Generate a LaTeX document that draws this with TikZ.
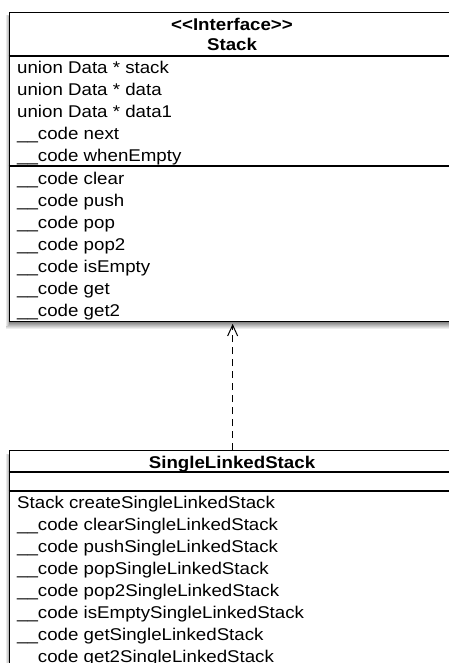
\documentclass[tikz,border=0pt]{standalone}
\usepackage{fontspec}
\setmainfont{Liberation Sans}[FakeStretch=1.1]
\usetikzlibrary{arrows.meta}
\begin{document}
\begin{tikzpicture}[x=1pt,y=1pt,
  classbox/.style={draw, line width=1.3pt, fill=white, inner sep=0pt},
  member/.style={anchor=base west, inner sep=0pt, font=\fontsize{17}{20}\selectfont},
  title/.style={anchor=base, inner sep=0pt, font=\fontsize{17}{20}\selectfont\bfseries},
  sepline/.style={line width=1.3pt},
  bottomshade/.style={top color=black!55, bottom color=white, draw=none},
  sideshade/.style={left color=white, right color=black!30, draw=none},
  realizes/.style={line width=1pt, dash pattern=on 7pt off 5pt,
    -{Straight Barb[length=11pt,width=10pt,line width=1pt]}}]
\useasboundingbox (0,0) rectangle (449,-663);
\clip (0,0) rectangle (449,-663);
% shadows
\shade[bottomshade] (6,-321) rectangle (460,-329);
\shade[sideshade] (5,-16) rectangle (8.5,-325);
\shade[sideshade] (5,-454) rectangle (8.5,-663);
% Interface box
\node[classbox, anchor=north west, minimum width=447pt, minimum height=309pt] (stack) at (8.5,-12) {};
\draw[sepline] ([yshift=-44pt]stack.north west) -- ([yshift=-44pt]stack.north east);
\draw[sepline] ([yshift=-154pt]stack.north west) -- ([yshift=-154pt]stack.north east);
\node[title] (st1) at (232,-31) {\textless\kern0pt\textless\kern0pt Interface\kern0pt\textgreater\kern0pt\textgreater};
\node[title] (st2) at (232,-51) {Stack};
\foreach \t [count=\i] in {union Data * stack, union Data * data, union Data * data1,
  \_\_code next, \_\_code whenEmpty}
  \node[member] (sa\i) at (17,{-74-22*(\i-1)}) {\t};
\foreach \t [count=\i] in {clear, push, pop, pop2, isEmpty, get, get2}
  \node[member] (sm\i) at (17,{-184-22*(\i-1)}) {\_\_code \t};
% Implementation box
\node[classbox, anchor=north west, minimum width=447pt, minimum height=240pt] (sls) at (8.5,-450) {};
\draw[sepline] ([yshift=-22pt]sls.north west) -- ([yshift=-22pt]sls.north east);
\draw[sepline] ([yshift=-41pt]sls.north west) -- ([yshift=-41pt]sls.north east);
\node[title] (lt) at (232,-468) {SingleLinkedStack};
\node[member] (lc) at (17,-508) {Stack createSingleLinkedStack};
\foreach \t [count=\i] in {clear, push, pop, pop2, isEmpty, get, get2}
  \node[member] (lm\i) at (17,{-530-22*(\i-1)}) {\_\_code \t SingleLinkedStack};
% realization
\draw[realizes] (sls.north) -- ([yshift=-1.5pt]stack.south);
\end{tikzpicture}
\end{document}
